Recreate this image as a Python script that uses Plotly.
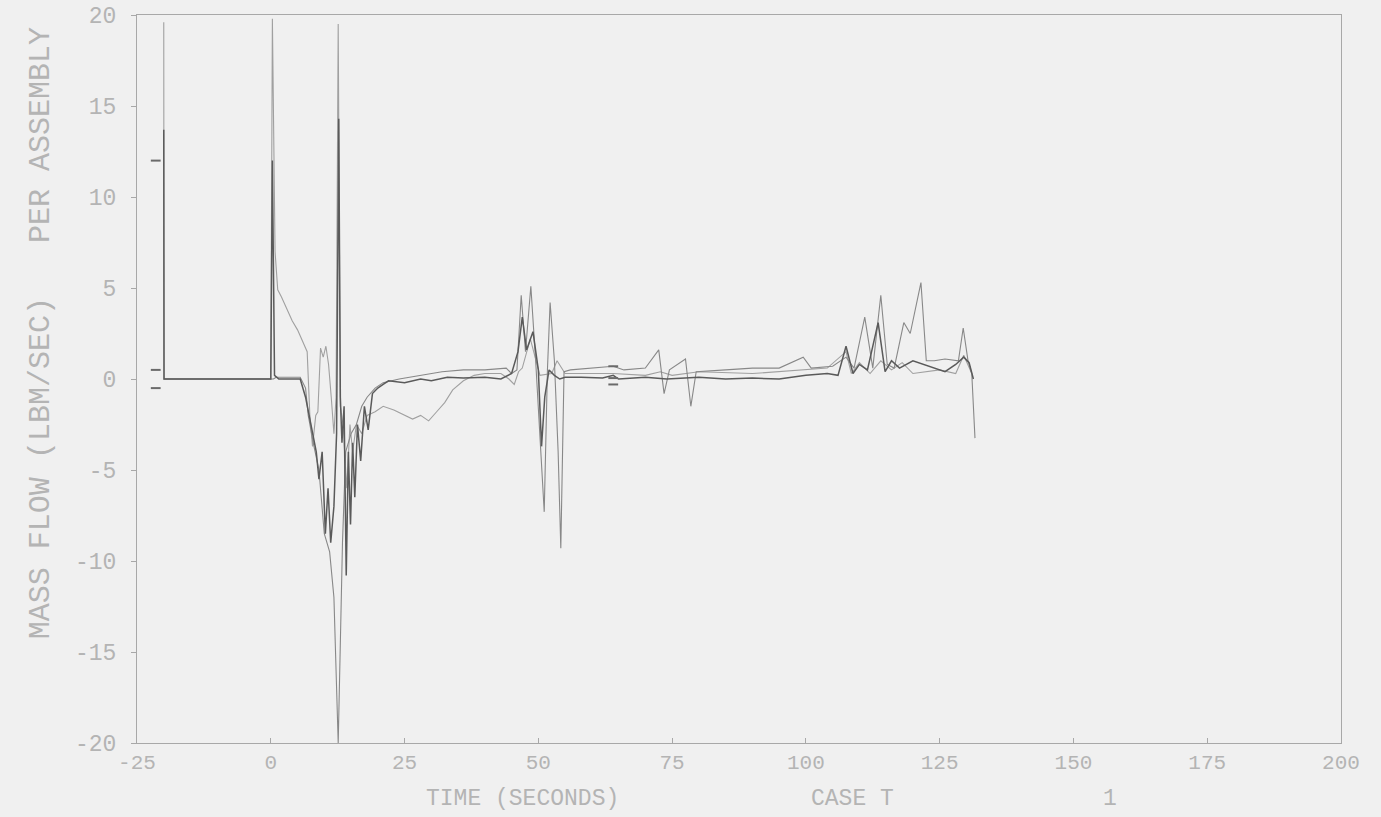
import plotly.graph_objects as go

# ---- data ----
t_a = [-20, -19.95, 0, 0.3, 0.7, 1.5, 5.5, 6.5, 7.5, 8.5, 9.0, 9.6, 10.2, 10.7, 11.2, 11.8, 12.3, 12.7,
       13.0, 13.3, 13.7, 14.1, 14.5, 14.9, 15.3, 15.7, 16.2, 16.8, 17.5, 18.2, 19.0, 20.0, 21, 22, 25, 28,
       30, 33, 36, 40, 43, 45, 46.2, 47.0, 47.8, 49.0, 50.0, 50.6, 51.2, 52.0, 53.0, 54.0, 55, 58, 62, 64,
       65, 70, 74, 80, 85, 90, 95, 100, 104, 106, 107.5, 108.8, 110, 111.5, 113.5, 114.8, 116, 117.5, 120,
       122, 124, 126, 128, 129.5, 130.5, 131.3]
v_a = [13.7, 0, 0, 12.0, 0.2, 0, 0, -1.0, -2.5, -4.0, -5.5, -4.0, -8.5, -6.0, -9.0, -7.0, -3.0, 14.3,
       -1.0, -3.5, -1.5, -10.8, -4.0, -8.0, -3.5, -6.5, -2.5, -4.5, -1.5, -2.8, -0.8, -0.5, -0.3, -0.1, -0.2, 0.0,
       -0.1, 0.1, 0.05, 0.1, 0.0, 0.3, 1.5, 3.4, 1.6, 2.6, 0.5, -3.7, -1.0, 0.5, 0.2, 0.0, 0.1, 0.1, 0.05, 0.2,
       0.0, 0.1, 0.0, 0.1, 0.0, 0.05, 0.0, 0.2, 0.3, 0.2, 1.8, 0.3, 0.8, 0.5, 3.1, 0.4, 1.0, 0.6, 1.0,
       0.8, 0.6, 0.4, 0.8, 1.2, 0.9, 0.0]

t_b = [-20, 0, 0.5, 1, 5.5, 6.5, 7.0, 8.0, 9.0, 10.0, 11.0, 11.8, 12.6, 13.4, 14.0, 15.0, 16, 17, 18, 19.5,
       21, 24, 28, 32, 36, 40, 44, 45, 46, 46.8, 47.6, 48.6, 49.5, 50.4, 51.1, 51.7, 52.2, 53.0, 53.7, 54.2,
       54.8, 56, 60, 64, 66, 70, 72.5, 73.5, 74.5, 77.5, 78.5, 79.5, 85, 90, 95, 99.5, 101, 105, 107.5, 109,
       111, 112.5, 114, 115.2, 116.5, 118.3, 119.5, 121.5, 122.5, 124, 126, 128.5, 129.4, 130.3, 131.0, 131.6]
v_b = [0.0, 0.0, 0.0, 0.1, 0.1, -0.5, -2.0, -3.6, -5.0, -8.5, -9.5, -12, -20, -9, -4, -3.0, -2.5, -1.5, -1.0, -0.5,
       -0.2, 0.0, 0.2, 0.4, 0.5, 0.5, 0.6, 0.3, 0.5, 4.6, 1.5, 5.1, 1.0, -4.0, -7.3, 0.5, 4.2, 1.0, -4.0, -9.3,
       0.4, 0.5, 0.6, 0.7, 0.5, 0.6, 1.6, -0.8, 0.5, 1.1, -1.5, 0.4, 0.5, 0.6, 0.6, 1.2, 0.6, 0.7, 1.2, 0.6,
       3.4, 0.6, 4.6, 0.8, 0.6, 3.1, 2.5, 5.3, 1.0, 1.0, 1.1, 1.0, 2.8, 1.0, 0.3, -3.25]

t_c = [-20, -19.95, 0, 0.3, 0.8, 1.3, 2.0, 3.0, 4.0, 5.0, 6.0, 6.8, 7.3, 7.8, 8.4, 8.8, 9.3, 9.8, 10.3, 10.8,
       11.3, 11.8, 12.2, 12.6, 13.0, 13.5, 14.2, 14.8, 15.3, 16.0, 17.0, 18.0, 19.5, 21, 23, 25, 26.5, 28,
       29.5, 31, 32.5, 34, 36, 38, 40, 43, 44.5, 45.5, 46.3, 47.0, 48.5, 50.3, 52.5, 53.5, 55, 60, 64, 70,
       72.8, 75, 80, 90, 100, 104, 107.5, 108.5, 110, 112, 114, 116, 118, 120, 125, 128, 129.5, 131]
v_c = [19.6, 0, 0, 19.8, 7.0, 4.9, 4.5, 3.8, 3.2, 2.7, 2.0, 1.5, -2.0, -3.7, -2.0, -1.8, 1.7, 1.2, 1.8, 0.8,
       -1.0, -3.0, -1.0, 19.5, -1.5, -2.5, -6.0, -2.5, -4.0, -2.5, -3.0, -2.0, -1.8, -1.5, -1.7, -2.0, -2.2, -2.0,
       -2.3, -1.8, -1.3, -0.6, -0.1, 0.2, 0.3, 0.3, 0.0, -0.3, 0.4, 0.6, 2.2, 0.2, 0.3, 1.0, 0.3, 0.3, 0.3, 0.2,
       0.4, 0.2, 0.4, 0.3, 0.5, 0.6, 1.5, 0.3, 0.9, 0.3, 1.0, 0.5, 0.9, 0.3, 0.5, 0.3, 1.3, 0.3]

sym_t = [-21.5, -21.5, -21.5, 64, 64, 64]
sym_v = [12.0, 0.5, -0.5, 0.7, 0.05, -0.3]

x_ticks = [-25, 0, 25, 50, 75, 100, 125, 150, 175, 200]
y_ticks = [-20, -15, -10, -5, 0, 5, 10, 15, 20]

TXT = "#b4b4b4"
BG = "#f0f0f0"
FONT = "Liberation Mono"

fig = go.Figure()
fig.add_trace(go.Scatter(x=t_c, y=v_c, mode="lines", line=dict(color="#a0a0a0", width=1.1), showlegend=False))
fig.add_trace(go.Scatter(x=t_b, y=v_b, mode="lines", line=dict(color="#888888", width=1.1), showlegend=False))
fig.add_trace(go.Scatter(x=t_a, y=v_a, mode="lines", line=dict(color="#5a5a5a", width=1.5), showlegend=False))
fig.add_trace(go.Scatter(x=sym_t, y=sym_v, mode="markers",
                         marker=dict(symbol="line-ew", size=7, line=dict(color="#6a6a6a", width=2)),
                         showlegend=False))

fig.update_layout(
    width=1381, height=817,
    margin=dict(l=137, r=40, t=15, b=74, pad=0),
    paper_bgcolor=BG, plot_bgcolor=BG,
    font=dict(family=FONT, color=TXT, size=20),
    xaxis=dict(range=[-25, 200], tickvals=x_ticks, ticktext=[str(v) for v in x_ticks],
               showgrid=False, zeroline=False, showline=True, linecolor="#a8a8a8", linewidth=1,
               mirror=True, ticks="inside", ticklen=5, tickcolor="#a8a8a8", automargin=False,
               tickfont=dict(family=FONT, size=21, color=TXT)),
    yaxis=dict(range=[-20, 20], tickvals=y_ticks, ticktext=[str(v) for v in y_ticks],
               showgrid=False, zeroline=False, showline=True, linecolor="#a8a8a8", linewidth=1,
               mirror=True, ticks="outside", ticklen=5, tickcolor="#a8a8a8", automargin=False,
               ticklabelstandoff=10,
               tickfont=dict(family=FONT, size=23, color=TXT)),
    annotations=[
        dict(text="MASS FLOW (LBM/SEC)   PER ASSEMBLY", xref="paper", yref="paper",
             x=-0.0955, y=0.563, textangle=-90, showarrow=False,
             font=dict(family=FONT, size=30, color=TXT)),
        dict(text="TIME (SECONDS)", xref="x", yref="paper", x=47, y=-0.077, yanchor="middle",
             showarrow=False, font=dict(family=FONT, size=23, color=TXT)),
        dict(text="CASE T", xref="x", yref="paper", x=108.7, y=-0.077, yanchor="middle",
             showarrow=False, font=dict(family=FONT, size=23, color=TXT)),
        dict(text="1", xref="x", yref="paper", x=156.8, y=-0.077, yanchor="middle",
             showarrow=False, font=dict(family=FONT, size=23, color=TXT)),
    ],
)

fig.write_html(
    "out.html",
    config={"displayModeBar": False},
    post_script="document.body.style.margin='0';document.body.style.background='" + BG + "';"
                "document.documentElement.style.background='" + BG + "';",
)
